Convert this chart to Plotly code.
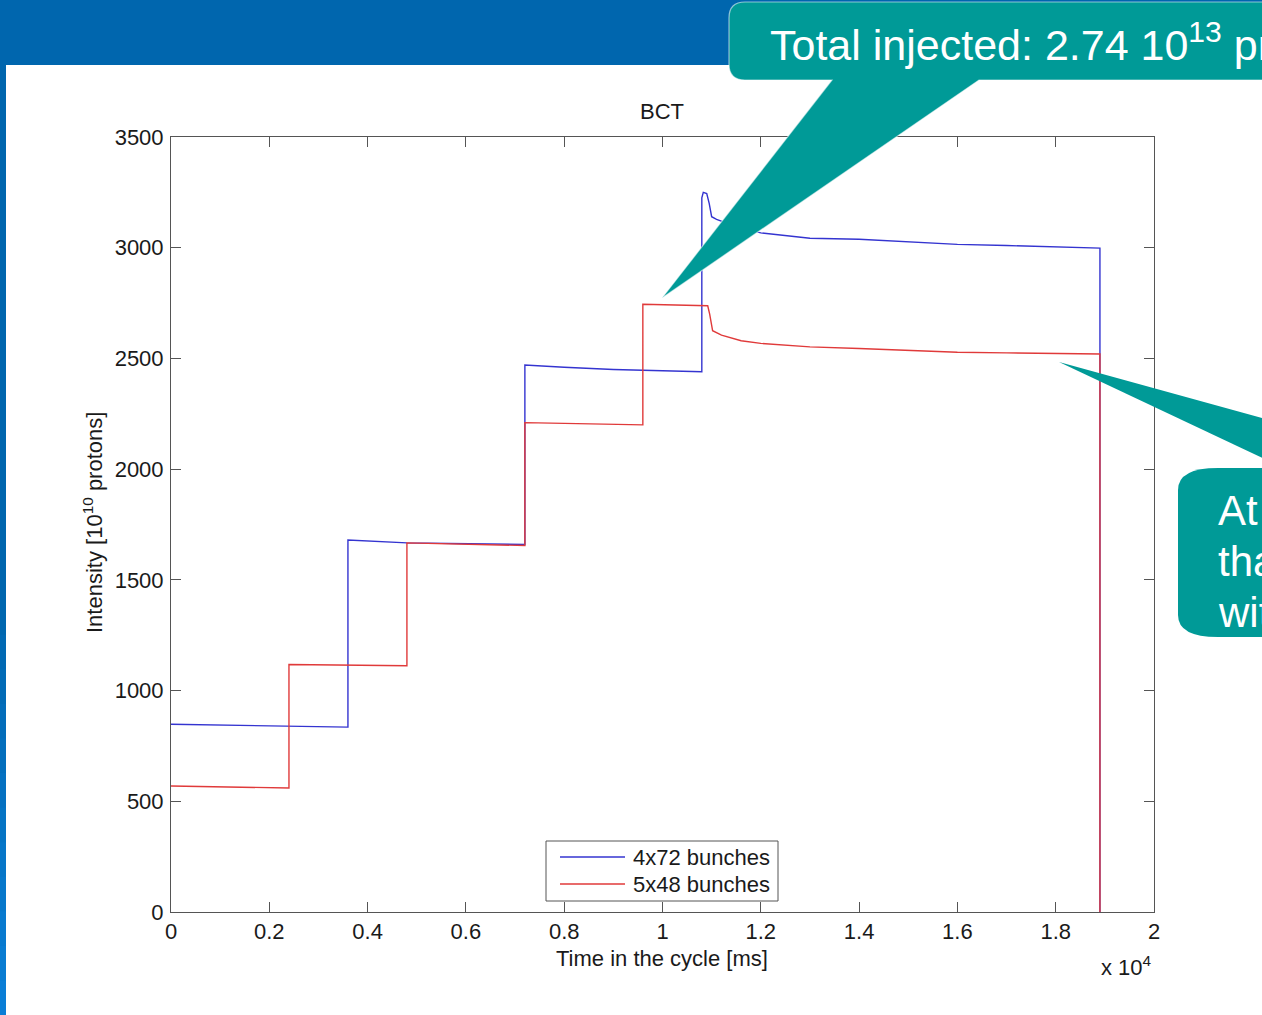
import plotly.graph_objects as go

# ---------------- data ----------------
blue_name = "4x72 bunches"
blue_t = [0, 3600, 3600, 4800, 7200, 7200, 8000, 9000, 10800, 10800, 10830, 10900, 10950,
          11000, 11100, 11200, 11500, 12000, 13000, 14000, 15000, 16000, 17000, 18000, 18900, 18900]
blue_i = [848, 835, 1680, 1667, 1660, 2470, 2460, 2450, 2440, 3225, 3250, 3245, 3200,
          3140, 3128, 3120, 3095, 3067, 3043, 3038, 3025, 3015, 3010, 3005, 2998, 0]

red_name = "5x48 bunches"
red_t = [0, 2400, 2400, 4800, 4800, 7200, 7200, 9600, 9600, 10920, 10960, 11020, 11200,
         11600, 12000, 13000, 14000, 15000, 16000, 17000, 18000, 18900, 18900]
red_i = [569, 560, 1118, 1112, 1667, 1655, 2210, 2200, 2745, 2738, 2700, 2625, 2605,
         2580, 2568, 2552, 2545, 2535, 2528, 2525, 2522, 2520, 0]

x_tickvals = [0, 2000, 4000, 6000, 8000, 10000, 12000, 14000, 16000, 18000, 20000]
x_ticktext = ["0", "0.2", "0.4", "0.6", "0.8", "1", "1.2", "1.4", "1.6", "1.8", "2"]
y_tickvals = [0, 500, 1000, 1500, 2000, 2500, 3000, 3500]

title_text = "BCT"
x_title = "Time in the cycle [ms]"
y_title = "Intensity [10<sup>10</sup> protons]"
x_exponent = "x 10<sup>4</sup>"
callout1_text = "Total injected: 2.74 10<sup>13</sup> protons"
callout2_lines = ["At the", "than", "with"]

BLUE = "#3434D0"
RED = "#E03A3A"

# ---------------- layout geometry ----------------
W, H = 1262, 1015
L, R, T, B = 171, 1154, 137, 912
FONT = "Liberation Sans, Arial, Helvetica, sans-serif"
FS = 22
TEAL = "#009A97"
HEADER = "#0066AE"
AX = "#555555"


def X(px):
    return (px - L) / (R - L)


def Y(py):
    return (B - py) / (B - T)


def path(cmds):
    out = []
    for c in cmds:
        if isinstance(c, str):
            out.append(c)
        else:
            out.append(f"{X(c[0]):.5f},{Y(c[1]):.5f}")
    return " ".join(out)


fig = go.Figure()
fig.add_trace(go.Scatter(x=blue_t, y=blue_i, mode="lines", name=blue_name,
                         line=dict(color=BLUE, width=1.4)))
fig.add_trace(go.Scatter(x=red_t, y=red_i, mode="lines", name=red_name,
                         line=dict(color=RED, width=1.4)))

axis_common = dict(showgrid=False, zeroline=False, showline=True, linecolor=AX,
                   linewidth=1, mirror="allticks", ticks="inside", ticklen=10,
                   tickcolor=AX, tickwidth=1,
                   tickfont=dict(family=FONT, size=FS, color="#1a1a1a"))
fig.update_xaxes(range=[0, 20000], tickvals=x_tickvals, ticktext=x_ticktext,
                 ticklabelstandoff=0, **axis_common)
fig.update_yaxes(range=[0, 3500], tickvals=y_tickvals, ticklabelstandoff=2, **axis_common)

shapes = []
# header band
shapes.append(dict(type="rect", xref="paper", yref="paper", x0=X(0), x1=X(W), y0=Y(65), y1=Y(0),
                   fillcolor=HEADER, line=dict(width=0), layer="above"))
# left strip with gradient
n = 12
c0 = (0x00, 0x66, 0xAE)
c1 = (0x0B, 0x80, 0xD8)
y_start = 600
shapes.append(dict(type="rect", xref="paper", yref="paper", x0=X(0), x1=X(6), y0=Y(y_start), y1=Y(0),
                   fillcolor=HEADER, line=dict(width=0), layer="above"))
for k in range(n):
    ya = y_start + (H - y_start) * k / n
    yb = y_start + (H - y_start) * (k + 1) / n + 1
    f = (k + 0.5) / n
    col = "#%02x%02x%02x" % tuple(int(c0[j] + (c1[j] - c0[j]) * f) for j in range(3))
    shapes.append(dict(type="rect", xref="paper", yref="paper", x0=X(0), x1=X(6), y0=Y(yb), y1=Y(ya),
                       fillcolor=col, line=dict(width=0), layer="above"))

# legend box (MATLAB style)
lg_x0, lg_x1, lg_y0, lg_y1 = 546, 778, 841, 901
shapes.append(dict(type="rect", xref="paper", yref="paper", x0=X(lg_x0), x1=X(lg_x1),
                   y0=Y(lg_y1), y1=Y(lg_y0), fillcolor="white", line=dict(color=AX, width=1),
                   layer="above"))
legend_rows = [(blue_name, BLUE, 857), (red_name, RED, 884)]
for name, col, ry_ in legend_rows:
    shapes.append(dict(type="line", xref="paper", yref="paper", x0=X(560), x1=X(625),
                       y0=Y(ry_), y1=Y(ry_), line=dict(color=col, width=1.4), layer="above"))

# callout 1 (top)
r = 16
p1 = path(["M", (729 + r, 2), "L", (1300, 2), "L", (1300, 80), "L", (979, 80), "L", (662, 298),
           "L", (832, 80), "L", (729 + r, 80), "Q", (729, 80), (729, 80 - r), "L", (729, 2 + r),
           "Q", (729, 2), (729 + r, 2), "Z"])
shapes.append(dict(type="path", xref="paper", yref="paper", path=p1, fillcolor=TEAL,
                   line=dict(color="rgba(255,255,255,0.55)", width=1.2), layer="above"))
# callout 2 (right)
rx, ry = 40, 22
p2 = path(["M", (1178 + rx, 468), "L", (1300, 468), "L", (1300, 637), "L", (1178 + rx, 637),
           "Q", (1178, 637), (1178, 637 - ry), "L", (1178, 468 + ry),
           "Q", (1178, 468), (1178 + rx, 468), "Z"])
shapes.append(dict(type="path", xref="paper", yref="paper", path=p2, fillcolor=TEAL,
                   line=dict(width=0), layer="above"))
p3 = path(["M", (1059, 362), "L", (1320, 434), "L", (1320, 485), "Z"])
shapes.append(dict(type="path", xref="paper", yref="paper", path=p3, fillcolor=TEAL,
                   line=dict(width=0), layer="above"))

txt_font = dict(family=FONT, size=FS, color="#1a1a1a")
annotations = [
    dict(text=title_text, x=X(662), y=Y(111), xref="paper", yref="paper", showarrow=False,
         font=txt_font, xanchor="center", yanchor="middle"),
    dict(text=x_title, x=X(662), y=Y(958), xref="paper", yref="paper", showarrow=False,
         font=txt_font, xanchor="center", yanchor="middle"),
    dict(text=x_exponent, x=X(1126), y=Y(966), xref="paper", yref="paper", showarrow=False,
         font=txt_font, xanchor="center", yanchor="middle"),
    dict(text=y_title, x=X(93), y=Y(523), xref="paper", yref="paper", showarrow=False,
         textangle=-90, font=txt_font, xanchor="center", yanchor="middle"),
    dict(text=callout1_text, x=X(768), y=Y(42), xref="paper", yref="paper", showarrow=False,
         font=dict(family=FONT, size=43, color="white"), xanchor="left", yanchor="middle"),
]
for name, col, ry_ in legend_rows:
    annotations.append(dict(text=name, x=X(631), y=Y(ry_), xref="paper", yref="paper",
                            showarrow=False, font=txt_font, xanchor="left", yanchor="middle"))
for i, line in enumerate(callout2_lines):
    annotations.append(dict(text=line, x=X(1216), y=Y(510 + 51 * i), xref="paper", yref="paper",
                            showarrow=False, font=dict(family=FONT, size=42, color="white"),
                            xanchor="left", yanchor="middle"))

fig.update_layout(
    width=W, height=H, autosize=False,
    margin=dict(l=L, r=W - R, t=T, b=H - B, pad=0),
    paper_bgcolor="white", plot_bgcolor="white",
    shapes=shapes, annotations=annotations,
    showlegend=False,
)

fig.write_html("out.html")
